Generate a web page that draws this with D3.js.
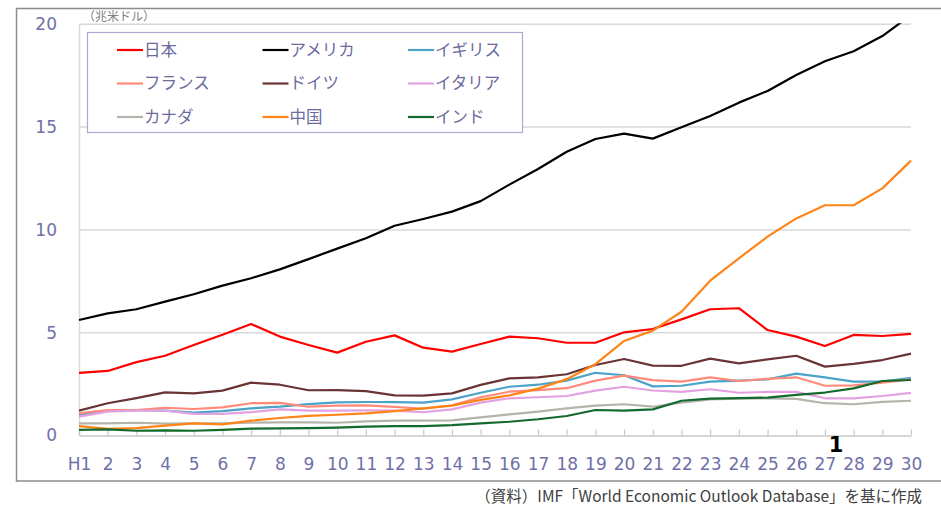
<!DOCTYPE html>
<html><head><meta charset="utf-8">
<script src="https://cdn.jsdelivr.net/npm/d3@7"></script>
<style>
html,body{margin:0;padding:0;background:#fff;}
svg{display:block;}
</style></head>
<body>
<svg id="chart" width="941" height="506"></svg>
<script>
const categories = ["H1","2","3","4","5","6","7","8","9","10","11","12","13","14","15","16","17","18","19","20","21","22","23","24","25","26","27","28","29","30"];
const yTicks = [0,5,10,15,20];

const japan   = [3.05,3.14,3.57,3.88,4.40,4.90,5.42,4.81,4.40,4.03,4.56,4.87,4.27,4.08,4.45,4.81,4.73,4.51,4.51,5.02,5.18,5.65,6.14,6.19,5.13,4.81,4.35,4.89,4.84,4.94];
const usa     = [5.62,5.94,6.14,6.51,6.87,7.29,7.65,8.08,8.58,9.09,9.59,10.20,10.53,10.89,11.40,12.20,12.96,13.80,14.42,14.68,14.44,14.99,15.54,16.19,16.76,17.53,18.20,18.69,19.43,20.45];
const uk      = [1.00,1.21,1.24,1.21,1.11,1.19,1.32,1.40,1.53,1.61,1.63,1.62,1.60,1.76,2.08,2.37,2.47,2.67,3.05,2.93,2.39,2.42,2.62,2.67,2.73,3.01,2.83,2.62,2.62,2.80];
const france  = [1.08,1.24,1.24,1.35,1.29,1.37,1.57,1.59,1.40,1.45,1.47,1.39,1.30,1.47,1.86,2.13,2.21,2.30,2.67,2.91,2.69,2.62,2.83,2.65,2.75,2.83,2.42,2.44,2.57,2.73];
const germany = [1.21,1.57,1.82,2.10,2.05,2.18,2.57,2.47,2.20,2.21,2.16,1.95,1.94,2.05,2.46,2.78,2.83,2.98,3.43,3.72,3.40,3.39,3.74,3.51,3.70,3.88,3.35,3.48,3.67,3.98];
const italy   = [0.92,1.16,1.21,1.21,1.05,1.05,1.14,1.27,1.21,1.21,1.22,1.21,1.13,1.27,1.60,1.81,1.86,1.92,2.18,2.37,2.19,2.12,2.25,2.08,2.12,2.12,1.81,1.81,1.92,2.07];
const canada  = [0.59,0.59,0.62,0.58,0.59,0.59,0.62,0.64,0.64,0.62,0.69,0.72,0.72,0.74,0.88,1.03,1.16,1.32,1.45,1.52,1.40,1.60,1.76,1.79,1.81,1.78,1.57,1.52,1.64,1.69];
const china   = [0.46,0.32,0.36,0.48,0.59,0.54,0.72,0.85,0.95,1.01,1.08,1.19,1.32,1.45,1.73,1.95,2.28,2.74,3.47,4.60,5.10,6.02,7.53,8.62,9.67,10.56,11.20,11.20,12.02,13.37];
const india   = [0.27,0.30,0.23,0.25,0.23,0.27,0.33,0.35,0.36,0.38,0.43,0.46,0.46,0.50,0.59,0.67,0.79,0.95,1.24,1.21,1.27,1.69,1.79,1.82,1.84,1.98,2.09,2.29,2.65,2.70];

const seriesNames  = ["日本","アメリカ","イギリス","フランス","ドイツ","イタリア","カナダ","中国","インド"];
const seriesValues = [japan,usa,uk,france,germany,italy,canada,china,india];
const seriesColors = ["#ff0000","#000000","#4ba3c8","#ff8a7a","#6a3434","#e2a2e2","#b4b4ac","#ff8418","#136a2c"];

const svg = d3.select("#chart");
const axisColor = "#7070a8";
const tickFont = "'DejaVu Sans', Verdana, sans-serif";
const jpFont = "'Noto Sans CJK JP', sans-serif";

// outer frame
svg.append("rect").attr("x",16.5).attr("y",8.5).attr("width",940).attr("height",472.5)
  .attr("fill","none").attr("stroke","#8c8c8c").attr("stroke-width",1.5);

const x = d3.scalePoint().domain(categories).range([79, 911]);
const y = d3.scaleLinear().domain([0,20]).range([435.5, 24.3]);

// gridlines
svg.append("g").selectAll("line").data(yTicks.filter(d=>d>0)).join("line")
  .attr("x1",79).attr("x2",911).attr("y1",d=>y(d)).attr("y2",d=>y(d))
  .attr("stroke","#d9d9d9").attr("stroke-width",1.5);

// y axis
const gy = svg.append("g").attr("transform","translate(79,0)")
  .call(d3.axisLeft(y).tickValues(yTicks).tickSize(0).tickPadding(22));
gy.select(".domain").attr("stroke","#d9d9d9").attr("stroke-width",1.5);
gy.selectAll("text").attr("fill",axisColor).attr("font-size",17).attr("font-family",tickFont);

// x axis
const gx = svg.append("g").attr("transform",`translate(0,${y(0)})`)
  .call(d3.axisBottom(x).tickSize(-6).tickPadding(22).tickSizeOuter(0));
gx.select(".domain").attr("stroke","#c8c8c8").attr("stroke-width",1.5);
gx.selectAll(".tick line").attr("stroke","#c8c8c8").attr("stroke-width",1.2);
gx.selectAll("text").attr("fill",axisColor).attr("font-size",17).attr("font-family",tickFont);

// clip
svg.append("clipPath").attr("id","plotclip").append("rect")
  .attr("x",70).attr("y",y(20)-1).attr("width",850).attr("height",y(0)-y(20)+10);

const line = d3.line().x((d,i)=>x(categories[i])).y(d=>y(d));
const gl = svg.append("g").attr("clip-path","url(#plotclip)");
seriesValues.forEach((vals,k)=>{
  gl.append("path").datum(vals).attr("d",line).attr("fill","none")
    .attr("stroke",seriesColors[k]).attr("stroke-width",2.2)
    .attr("stroke-linejoin","round");
});

// unit label
svg.append("text").attr("x",83).attr("y",21).text("（兆米ドル）")
  .attr("font-size",12).attr("fill","#808080").attr("font-family",jpFont);

// legend
const lg = svg.append("g");
lg.append("rect").attr("x",87.5).attr("y",32.5).attr("width",435).attr("height",100)
  .attr("fill","#fff").attr("stroke","#a9a9d2").attr("stroke-width",1.2);
seriesNames.forEach((name,k)=>{
  const col = k%3, row = Math.floor(k/3);
  const lx = 117 + col*145.5, ly = 50 + row*33.5;
  lg.append("line").attr("x1",lx).attr("x2",lx+26).attr("y1",ly).attr("y2",ly)
    .attr("stroke",seriesColors[k]).attr("stroke-width",2.2);
  lg.append("text").attr("x",lx+27).attr("y",ly).attr("dy","0.36em").text(name)
    .attr("font-size",16.5).attr("fill","#6b6b9e").attr("font-family",jpFont);
});

// annotation "1"
svg.append("text").attr("x",836).attr("y",452).attr("text-anchor","middle").text("1")
  .attr("font-size",21).attr("font-weight","bold").attr("fill","#000").attr("font-family","'DejaVu Sans', sans-serif");

// source
svg.append("text").attr("x",922).attr("y",502).attr("text-anchor","end")
  .text("（資料）IMF「World Economic Outlook Database」を基に作成")
  .attr("font-size",15.5).attr("fill","#404040").attr("font-family",jpFont);
</script>
</body></html>
